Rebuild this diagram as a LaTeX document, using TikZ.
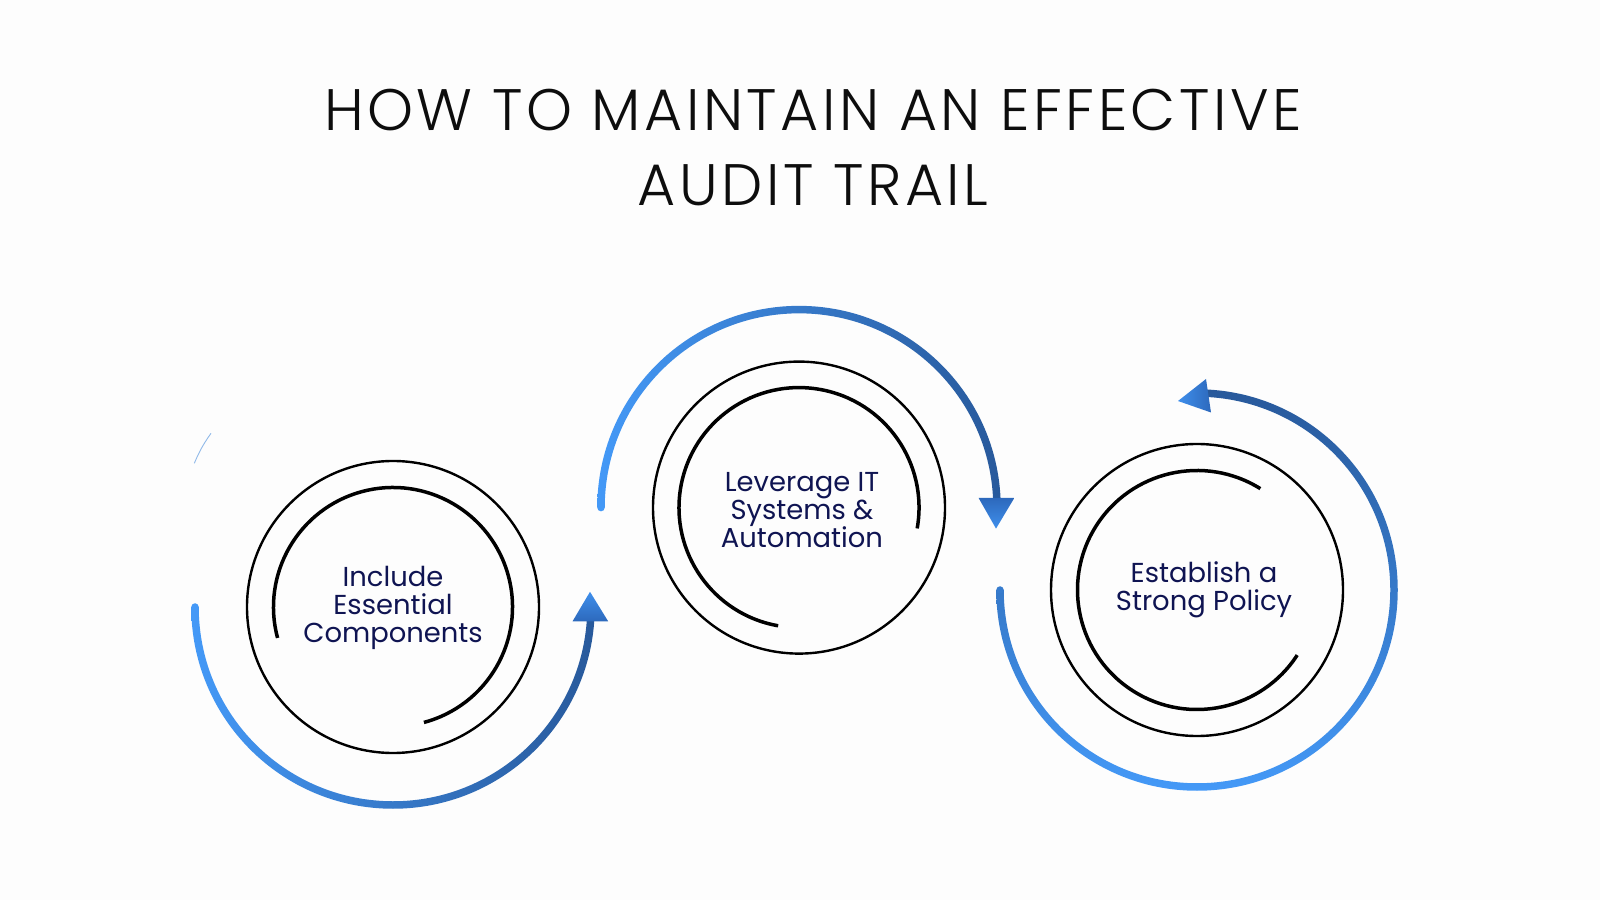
\documentclass[tikz,border=0pt]{standalone}
\usepackage{fontspec}
\setmainfont{Poppins}
\newfontfamily\titlefont{Poppins Light}[LetterSpace=6]
\usetikzlibrary{calc}
\definecolor{navy}{HTML}{0F1452}
\definecolor{blueL}{HTML}{4499F7}
\definecolor{blueM}{HTML}{3680D6}
\definecolor{blueD}{HTML}{28599B}
\definecolor{tipL}{HTML}{3F8FEC}
\definecolor{tipD}{HTML}{2D69BC}
\definecolor{bg}{HTML}{FDFDFD}
\tikzset{
  ring/.style={circle, draw=black, line width=1.2pt, minimum size=146pt, inner sep=0pt},
  innerarc/.style={draw=black, line width=1.75pt},
  lbl/.style={text=navy, align=center, font=\fontsize{13.7}{14}\selectfont, inner sep=0pt},
  ttl/.style={text=black!95, font=\titlefont\fontsize{29.25}{38}\selectfont, inner sep=0pt, anchor=base}
}
\begin{document}
\begin{tikzpicture}[x=0.5pt,y=0.5pt]
\fill[bg] (0,0) rectangle (1600,900);
\useasboundingbox (0,0) rectangle (1600,900);

% title
\node[ttl] (title1) at (813,769.4) {HOW TO MAINTAIN AN EFFECTIVE};
\node[ttl] (title2) at (813,694) {AUDIT TRAIL};

% circles
\node[ring] (c1) at (393,293) {};
\node[ring] (c2) at (799,392.4) {};
\node[ring] (c3) at (1197,310) {};

% inner arcs
\draw[innerarc] ($(c1)+(195:119.5)$) arc[start angle=195, end angle=-75, radius=119.5];
\draw[innerarc] ($(c2)+(260:120)$) arc[start angle=260, end angle=-10, radius=120];
\draw[innerarc] ($(c3)+(58:119.5)$) arc[start angle=58, end angle=327, radius=119.5];

% labels
\node[lbl] (t1) at ($(c1)+(0,-1)$) {Include\\Essential\\Components};
\node[lbl] (t2) at ($(c2)+(3,-2)$) {Leverage IT\\Systems \&\\Automation};
\node[lbl] (t3) at ($(c3)+(7,0)$) {Establish a\\Strong Policy};

% blue arc 1
\shade[left color=blueL, right color=blueD]
  ($(c1)+(180:201.75)$) arc[start angle=180, end angle=357, radius=201.75]
  -- ($(c1)+(357:194.25)$) arc[start angle=357, end angle=180, radius=194.25] -- cycle;
\fill[blueL] ($(c1)+(180:198)$) circle[radius=3.75];
\shade[top color=tipL, bottom color=tipD] (572.5,278.6) -- (590,308.2) -- (608.2,278.6) -- cycle;

% blue arc 2
\shade[left color=blueL, right color=blueD]
  ($(c2)+(180:201.75)$) arc[start angle=180, end angle=1, radius=201.75]
  -- ($(c2)+(1:194.25)$) arc[start angle=1, end angle=180, radius=194.25] -- cycle;
\fill[blueL] ($(c2)+(180:198)$) circle[radius=3.75];
\shade[top color=tipD, bottom color=tipL] (978.6,402) -- (996,371.4) -- (1014.3,402) -- cycle;

% blue arc 3
\shade[top color=blueD, bottom color=blueL]
  ($(c3)+(180:200.75)$) arc[start angle=180, end angle=448, radius=200.75]
  -- ($(c3)+(448:193.25)$) arc[start angle=448, end angle=180, radius=193.25] -- cycle;
\fill[blueL!55!blueD] ($(c3)+(180:197)$) circle[radius=3.75];
\shade[left color=tipL, right color=tipD] (1178,499) -- (1206,521) -- (1211,487.5) -- cycle;

% faint stroke at top left
\draw[blueM!55, line width=0.45pt] (211,466.7) to[bend right=6] (194.3,436.7);
\end{tikzpicture}
\end{document}
